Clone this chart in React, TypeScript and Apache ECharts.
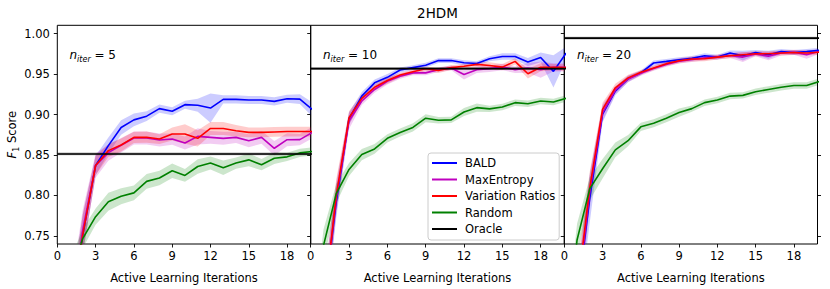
import React, { useEffect, useRef } from "react";
import * as echarts from "echarts";

// ---------- data ----------
const ITER = [0, 1, 2, 3, 4, 5, 6, 7, 8, 9, 10, 11, 12, 13, 14, 15, 16, 17, 18, 19, 20];
const METHODS = ["BALD", "MaxEntropy", "Variation Ratios", "Random"];
const N_ITER = [5, 10, 20];
const X_TICKS = [0, 3, 6, 9, 12, 15, 18];
const Y_TICKS = [0.75, 0.8, 0.85, 0.9, 0.95, 1.0];
const ORACLE = [0.8513, 0.9567, 0.9944];
const ORACLE_SD = [0.0017, 0.0017, 0.0017];

// panel 1 : n_iter = 5
const P1_BALD = [0.55, 0.64, 0.752, 0.837, 0.8616, 0.884, 0.8934, 0.898, 0.9073, 0.904, 0.9122, 0.9114, 0.908, 0.9187, 0.9187, 0.918, 0.918, 0.9163, 0.9195, 0.919, 0.906];
const P1_MAXENT = [0.55, 0.65, 0.758, 0.837, 0.853, 0.862, 0.871, 0.871, 0.8686, 0.8697, 0.8648, 0.873, 0.8718, 0.8706, 0.8718, 0.8676, 0.8718, 0.8583, 0.8689, 0.869, 0.878];
const P1_VARRAT = [0.55, 0.64, 0.752, 0.837, 0.8554, 0.8624, 0.8718, 0.872, 0.8697, 0.8759, 0.8759, 0.8706, 0.8828, 0.8828, 0.88, 0.878, 0.878, 0.8785, 0.879, 0.879, 0.879];
const P1_RANDOM = [0.5, 0.7, 0.747, 0.7738, 0.7922, 0.799, 0.8032, 0.8174, 0.8215, 0.8305, 0.8248, 0.8358, 0.84, 0.8342, 0.84, 0.844, 0.838, 0.846, 0.8477, 0.8526, 0.8545];
const P1_BALD_SD = [0.03, 0.03, 0.025, 0.012, 0.01, 0.009, 0.008, 0.006, 0.005, 0.005, 0.005, 0.008, 0.018, 0.005, 0.005, 0.005, 0.005, 0.005, 0.005, 0.006, 0.009];
const P1_MAXENT_SD = [0.03, 0.03, 0.025, 0.015, 0.01, 0.009, 0.008, 0.008, 0.008, 0.007, 0.008, 0.01, 0.008, 0.008, 0.007, 0.008, 0.008, 0.009, 0.008, 0.007, 0.007];
const P1_VARRAT_SD = [0.03, 0.03, 0.025, 0.012, 0.008, 0.008, 0.007, 0.007, 0.006, 0.008, 0.012, 0.01, 0.008, 0.008, 0.007, 0.006, 0.006, 0.006, 0.006, 0.006, 0.006];
const P1_RANDOM_SD = [0.02, 0.02, 0.012, 0.01, 0.011, 0.01, 0.009, 0.009, 0.009, 0.009, 0.008, 0.009, 0.008, 0.009, 0.007, 0.008, 0.007, 0.007, 0.005, 0.005, 0.005];

// panel 2 : n_iter = 10
const P2_BALD = [0.55, 0.66, 0.792, 0.895, 0.9228, 0.9392, 0.946, 0.955, 0.958, 0.961, 0.9667, 0.9667, 0.964, 0.963, 0.969, 0.9718, 0.9718, 0.965, 0.9706, 0.9534, 0.976];
const P2_MAXENT = [0.55, 0.66, 0.797, 0.892, 0.9167, 0.931, 0.9412, 0.9473, 0.9515, 0.9515, 0.9555, 0.9576, 0.9494, 0.9555, 0.9567, 0.9588, 0.9555, 0.9576, 0.9555, 0.9583, 0.9583];
const P2_VARRAT = [0.55, 0.66, 0.8, 0.896, 0.92, 0.9337, 0.942, 0.9488, 0.9528, 0.9565, 0.9545, 0.958, 0.9596, 0.962, 0.9606, 0.9586, 0.9657, 0.9504, 0.9584, 0.9584, 0.9582];
const P2_RANDOM = [0.6, 0.738, 0.8023, 0.8321, 0.8505, 0.8575, 0.8706, 0.8779, 0.8841, 0.8955, 0.893, 0.8934, 0.9032, 0.9085, 0.907, 0.9093, 0.9147, 0.9134, 0.9167, 0.9155, 0.92];
const P2_BALD_SD = [0.03, 0.03, 0.02, 0.008, 0.005, 0.004, 0.004, 0.003, 0.003, 0.003, 0.003, 0.003, 0.003, 0.003, 0.003, 0.004, 0.004, 0.005, 0.006, 0.02, 0.008];
const P2_MAXENT_SD = [0.03, 0.03, 0.02, 0.01, 0.005, 0.004, 0.004, 0.003, 0.003, 0.003, 0.003, 0.003, 0.006, 0.004, 0.004, 0.004, 0.004, 0.006, 0.01, 0.005, 0.005];
const P2_VARRAT_SD = [0.03, 0.03, 0.02, 0.008, 0.005, 0.004, 0.004, 0.003, 0.003, 0.003, 0.003, 0.003, 0.003, 0.003, 0.004, 0.004, 0.004, 0.006, 0.005, 0.004, 0.004];
const P2_RANDOM_SD = [0.02, 0.02, 0.012, 0.008, 0.007, 0.006, 0.005, 0.005, 0.005, 0.005, 0.004, 0.004, 0.005, 0.005, 0.004, 0.004, 0.004, 0.004, 0.004, 0.004, 0.004];

// panel 3 : n_iter = 20
const P3_BALD = [0.55, 0.67, 0.797, 0.9004, 0.929, 0.9441, 0.9515, 0.9637, 0.9657, 0.9678, 0.9694, 0.9727, 0.971, 0.976, 0.9727, 0.9767, 0.9739, 0.978, 0.9767, 0.978, 0.9794];
const P3_MAXENT = [0.55, 0.67, 0.805, 0.902, 0.93, 0.944, 0.951, 0.957, 0.962, 0.966, 0.968, 0.97, 0.971, 0.973, 0.971, 0.975, 0.972, 0.976, 0.977, 0.974, 0.978];
const P3_VARRAT = [0.55, 0.68, 0.81, 0.9065, 0.9331, 0.9453, 0.9522, 0.9576, 0.9629, 0.9665, 0.9686, 0.969, 0.971, 0.9727, 0.9739, 0.9751, 0.9751, 0.976, 0.9767, 0.976, 0.977];
const P3_RANDOM = [0.6, 0.745, 0.8085, 0.833, 0.8563, 0.8677, 0.8848, 0.8893, 0.8955, 0.9024, 0.9073, 0.9147, 0.9179, 0.9228, 0.9237, 0.9282, 0.931, 0.9338, 0.9359, 0.9359, 0.9408];
const P3_BALD_SD = [0.03, 0.03, 0.03, 0.01, 0.005, 0.004, 0.003, 0.003, 0.003, 0.003, 0.003, 0.003, 0.003, 0.003, 0.006, 0.003, 0.005, 0.003, 0.003, 0.003, 0.003];
const P3_MAXENT_SD = [0.03, 0.03, 0.02, 0.01, 0.005, 0.004, 0.003, 0.003, 0.003, 0.003, 0.003, 0.003, 0.003, 0.003, 0.006, 0.003, 0.005, 0.003, 0.003, 0.005, 0.003];
const P3_VARRAT_SD = [0.03, 0.03, 0.02, 0.008, 0.005, 0.004, 0.003, 0.003, 0.003, 0.003, 0.003, 0.003, 0.003, 0.003, 0.003, 0.003, 0.003, 0.003, 0.003, 0.003, 0.003];
const P3_RANDOM_SD = [0.02, 0.02, 0.014, 0.012, 0.009, 0.007, 0.005, 0.005, 0.005, 0.005, 0.004, 0.004, 0.004, 0.004, 0.004, 0.004, 0.004, 0.004, 0.004, 0.004, 0.004];

const PANEL_MEANS = [
  [P1_BALD, P1_MAXENT, P1_VARRAT, P1_RANDOM],
  [P2_BALD, P2_MAXENT, P2_VARRAT, P2_RANDOM],
  [P3_BALD, P3_MAXENT, P3_VARRAT, P3_RANDOM],
];
const PANEL_SDS = [
  [P1_BALD_SD, P1_MAXENT_SD, P1_VARRAT_SD, P1_RANDOM_SD],
  [P2_BALD_SD, P2_MAXENT_SD, P2_VARRAT_SD, P2_RANDOM_SD],
  [P3_BALD_SD, P3_MAXENT_SD, P3_VARRAT_SD, P3_RANDOM_SD],
];

// ---------- styling ----------
const COLORS = ["#0000ff", "#bf00bf", "#ff0000", "#008000"];
const BAND_COLORS = ["rgba(0,0,255,0.2)", "rgba(191,0,191,0.2)", "rgba(255,0,0,0.2)", "rgba(0,128,0,0.2)"];
const FONT = "DejaVu Sans";
const FS = 11.5;
const GRID_TOP = 25.3;
const GRID_H = 220.7;
const GRIDS = [
  { left: 57.3, width: 253.4 },
  { left: 310.7, width: 253.6 },
  { left: 564.3, width: 253.2 },
];
const X_MAX = 19.85;
const Y_MIN = 0.74;
const Y_MAX = 1.0103;

function bandSeries(gi: number, mean: number[], sd: number[], color: string) {
  const upper = ITER.map((x, i) => [x, mean[i] + sd[i]]);
  const lower = ITER.map((x, i) => [x, mean[i] - sd[i]]);
  return {
    type: "custom",
    xAxisIndex: gi,
    yAxisIndex: gi,
    silent: true,
    data: [[ITER[0], mean[0]]],
    renderItem: (params: any, api: any) => {
      const pts: number[][] = [];
      upper.forEach((p) => pts.push(api.coord(p)));
      for (let i = lower.length - 1; i >= 0; i--) pts.push(api.coord(lower[i]));
      const cs = params.coordSys;
      return {
        type: "polygon",
        shape: { points: pts },
        style: { fill: color, stroke: "none" },
        clipPath: { type: "rect", shape: { x: cs.x, y: cs.y, width: cs.width, height: cs.height } },
      };
    },
  };
}

function buildOption() {
  const series: any[] = [];
  for (let gi = 0; gi < 3; gi++) {
    for (let m = 0; m < 4; m++) {
      const mean = PANEL_MEANS[gi][m];
      const sd = PANEL_SDS[gi][m];
      series.push(bandSeries(gi, mean, sd, BAND_COLORS[m]));
      series.push({
        type: "line",
        name: METHODS[m],
        xAxisIndex: gi,
        yAxisIndex: gi,
        data: ITER.map((x, i) => [x, mean[i]]),
        symbol: "none",
        clip: true,
        color: COLORS[m],
        itemStyle: { color: COLORS[m] },
        lineStyle: { color: COLORS[m], width: 1.6 },
      });
    }
    const oMean = ITER.map(() => ORACLE[gi]);
    const oSd = ITER.map(() => ORACLE_SD[gi]);
    series.push(bandSeries(gi, oMean, oSd, "rgba(0,0,0,0.3)"));
    series.push({
      type: "line",
      name: "Oracle",
      xAxisIndex: gi,
      yAxisIndex: gi,
      data: ITER.map((x, i) => [x, oMean[i]]),
      symbol: "none",
      clip: true,
      color: "#000000",
      itemStyle: { color: "#000000" },
      lineStyle: { color: "#000000", width: 1.6 },
    });
  }

  const grid = GRIDS.map((g) => ({
    left: g.left,
    width: g.width,
    top: GRID_TOP,
    height: GRID_H,
    show: true,
    borderColor: "#000",
    borderWidth: 1,
    backgroundColor: "transparent",
    containLabel: false,
  }));

  const xAxis = GRIDS.map((_, gi) => ({
    type: "value",
    gridIndex: gi,
    min: 0,
    max: X_MAX,
    name: "Active Learning Iterations",
    nameLocation: "middle",
    nameGap: 28,
    nameTextStyle: { fontFamily: FONT, fontSize: FS, color: "#000" },
    axisLine: { show: false },
    splitLine: { show: false },
    axisTick: { show: true, inside: false, length: 3.5, customValues: X_TICKS, lineStyle: { color: "#000", width: 0.9 } },
    axisLabel: {
      show: true,
      customValues: X_TICKS,
      margin: 6,
      fontFamily: FONT,
      fontSize: FS,
      color: "#000",
    },
  }));

  const yAxis: any[] = GRIDS.map((_, gi) => ({
    type: "value",
    gridIndex: gi,
    min: Y_MIN,
    max: Y_MAX,
    position: "left",
    axisLine: { show: false },
    splitLine: { show: false },
    axisTick: { show: true, inside: false, length: 3.5, customValues: Y_TICKS, lineStyle: { color: "#000", width: 0.9 } },
    axisLabel: {
      show: gi === 0,
      customValues: Y_TICKS,
      margin: 7.5,
      fontFamily: FONT,
      fontSize: FS,
      color: "#000",
      formatter: (v: number) => v.toFixed(2),
    },
    ...(gi === 0
      ? {
          name: "{f|F}{s|1}{t| Score}",
          nameLocation: "middle",
          nameGap: 38,
          nameRotate: 90,
          nameTextStyle: {
            fontFamily: FONT,
            fontSize: FS,
            color: "#000",
            rich: {
              f: { fontFamily: FONT, fontSize: FS, fontStyle: "italic", color: "#000", lineHeight: 12, verticalAlign: "top" },
              s: { fontFamily: FONT, fontSize: 8, color: "#000", lineHeight: 8, padding: [6, 0, 0, 0], verticalAlign: "top" },
              t: { fontFamily: FONT, fontSize: FS, color: "#000", lineHeight: 12, verticalAlign: "top" },
            },
          },
        }
      : {}),
  }));
  yAxis.push({
    type: "value",
    gridIndex: 2,
    min: Y_MIN,
    max: Y_MAX,
    position: "right",
    axisLine: { show: false },
    splitLine: { show: false },
    axisTick: { show: true, inside: false, length: 3.5, customValues: Y_TICKS, lineStyle: { color: "#000", width: 0.9 } },
    axisLabel: { show: false },
  });

  const graphic: any[] = [
    {
      type: "text",
      x: 437.5,
      y: 13,
      style: { text: "2HDM", fontFamily: FONT, fontSize: 13.5, fill: "#000", align: "center", verticalAlign: "middle" },
    },
  ];
  const annX = [69.5, 323, 577];
  N_ITER.forEach((n, gi) => {
    graphic.push({
      type: "text",
      x: annX[gi],
      y: 55,
      style: {
        text: `{n|n}{s|iter}{e| = ${n}}`,
        fontFamily: FONT,
        fontSize: FS,
        fill: "#000",
        align: "left",
        verticalAlign: "middle",
        rich: {
          n: { fontFamily: FONT, fontSize: 12, fontStyle: "italic", fill: "#000", lineHeight: 12, verticalAlign: "top" },
          s: { fontFamily: FONT, fontSize: 8, fontStyle: "italic", fill: "#000", lineHeight: 8, padding: [6, 0, 0, 0], verticalAlign: "top" },
          e: { fontFamily: FONT, fontSize: 12, fill: "#000", lineHeight: 12, verticalAlign: "top" },
        },
      },
    });
  });

  return {
    animation: false,
    backgroundColor: "#ffffff",
    textStyle: { fontFamily: FONT },
    grid,
    xAxis,
    yAxis,
    legend: {
      show: true,
      selectedMode: false,
      orient: "vertical",
      left: 428,
      top: 153,
      padding: [3, 4, 4, 4],
      itemGap: 2.5,
      itemWidth: 25,
      itemHeight: 2,
      icon: "rect",
      backgroundColor: "#ffffff",
      borderColor: "#cccccc",
      borderWidth: 1,
      borderRadius: 3,
      textStyle: { fontFamily: FONT, fontSize: FS, color: "#000", lineHeight: 14, padding: [0, 0, 0, 3] },
      data: [
        { name: "BALD", itemStyle: { color: COLORS[0] } },
        { name: "MaxEntropy", itemStyle: { color: COLORS[1] } },
        { name: "Variation Ratios", itemStyle: { color: COLORS[2] } },
        { name: "Random", itemStyle: { color: COLORS[3] } },
        { name: "Oracle", itemStyle: { color: "#000000" } },
      ],
    },
    graphic,
    series,
  };
}

export default function App() {
  const ref = useRef<HTMLDivElement>(null);
  useEffect(() => {
    if (!ref.current) return;
    const chart = echarts.init(ref.current, undefined, { renderer: "svg" });
    chart.setOption(buildOption() as any);
    return () => chart.dispose();
  }, []);
  return (
    <div
      ref={ref}
      style={{ position: "absolute", left: 0, top: 0, width: 830, height: 289, background: "#fff" }}
    />
  );
}
